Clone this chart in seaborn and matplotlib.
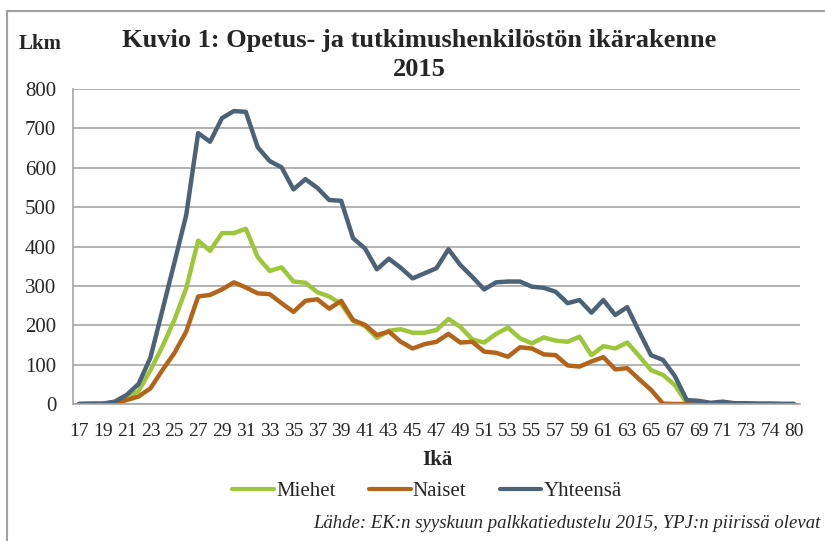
import pandas as pd
import matplotlib
matplotlib.use("Agg")
import matplotlib.pyplot as plt
from matplotlib.lines import Line2D
import seaborn as sns

# Ages on the category axis (last four as in the source chart)
ages = ["17", "18", "19", "20", "21", "22", "23", "24", "25", "26", "27", "28",
        "29", "30", "31", "32", "33", "34", "35", "36", "37", "38", "39", "40",
        "41", "42", "43", "44", "45", "46", "47", "48", "49", "50", "51", "52",
        "53", "54", "55", "56", "57", "58", "59", "60", "61", "62", "63", "64",
        "65", "66", "67", "68", "69", "70", "71", "72", "73", "75", "74", "76", "80"]

miehet = [0, 0, 0, 3, 15, 33, 86, 146, 213, 294, 415, 389, 434, 434, 445, 373,
          338, 347, 311, 308, 284, 273, 254, 211, 198, 168, 186, 190, 181, 181,
          188, 216, 196, 164, 156, 178, 194, 167, 154, 169, 161, 158, 171, 124,
          147, 141, 156, 122, 86, 74, 48, 2, 0, 0, 0, 0, 0, 0, 0, 0, 0]

naiset = [0, 0, 0, 2, 10, 19, 40, 86, 129, 184, 273, 277, 291, 309, 296, 281,
          279, 256, 234, 262, 266, 242, 262, 213, 201, 175, 184, 158, 141, 152,
          158, 178, 156, 158, 133, 130, 120, 144, 141, 126, 124, 98, 95, 108,
          119, 88, 91, 63, 36, 1, 0, 0, 0, 0, 0, 0, 0, 0, 0, 0, 0]

yhteensa = [0, 1, 1, 6, 23, 51, 118, 238, 358, 480, 688, 666, 726, 744, 742, 652,
            617, 601, 545, 571, 549, 518, 516, 421, 395, 342, 369, 346, 319, 332,
            345, 393, 353, 323, 291, 309, 311, 311, 298, 295, 285, 256, 264, 232,
            264, 226, 246, 184, 124, 112, 71, 10, 8, 3, 6, 2, 2, 1, 1, 0, 0]

series_names = ["Miehet", "Naiset", "Yhteensä"]
colors = ["#9dc63b", "#b3641a", "#4c6377"]

rows = []
for name, vals in zip(series_names, [miehet, naiset, yhteensa]):
    for i, v in enumerate(vals):
        rows.append({"pos": i, "ika": ages[i], "lkm": v, "sarja": name})
df = pd.DataFrame(rows)

sns.set_style("white")
plt.rcParams['font.family'] = ['Liberation Serif', 'DejaVu Serif']
text_col = "#262626"
grid_col = "#a6a6a6"

fig = plt.figure(figsize=(8.25, 5.41), dpi=100)
ax = fig.add_axes([73 / 825, 1 - 404 / 541, 727 / 825, 315 / 541])

sns.lineplot(data=df, x="pos", y="lkm", hue="sarja", palette=colors,
             hue_order=series_names, linewidth=3.2, sort=False, legend=False,
             ax=ax)

ax.set_xlim(-0.5, len(ages) - 0.5)
ax.set_ylim(0, 800)
ax.set_yticks(range(0, 801, 100))
ax.tick_params(axis="y", labelsize=15, colors=text_col, length=6,
               color=grid_col, width=1, pad=6)
ax.yaxis.grid(True, color=grid_col, linewidth=1.2)

# category labels on every second slot, tick marks between categories
ax.set_xticks(range(0, len(ages), 2))
ax.set_xticklabels(ages[::2])
ax.set_xticks([i - 0.5 for i in range(len(ages) + 1)], minor=True)
ax.tick_params(axis="x", which="major", length=0, labelsize=14,
               colors=text_col, pad=14)
ax.tick_params(axis="x", which="minor", length=5, color=grid_col, width=1)

for side in ["top", "right"]:
    ax.spines[side].set_visible(False)
for side in ["left", "bottom"]:
    ax.spines[side].set_color(grid_col)
    ax.spines[side].set_linewidth(1.2)
ax.set_xlabel("")
ax.set_ylabel("")

fig.text(0.508, 1 - 40 / 541, "Kuvio 1: Opetus- ja tutkimushenkilöstön ikärakenne",
         ha="center", va="center", fontsize=19, fontweight="bold", color=text_col)
fig.text(0.508, 1 - 69 / 541, "2015", ha="center", va="center", fontsize=19,
         fontweight="bold", color=text_col)
fig.text(40 / 825, 1 - 44 / 541, "Lkm", ha="center", va="center", fontsize=15,
         fontweight="bold", color=text_col)
fig.text(437 / 825, 1 - 460 / 541, "Ikä", ha="center", va="center", fontsize=15,
         fontweight="bold", color=text_col)

handles = [Line2D([], [], color=c, linewidth=3) for c in colors]
fig.legend(handles, series_names, loc="center", ncol=3,
           bbox_to_anchor=(427 / 825, 1 - 491 / 541), frameon=False,
           fontsize=15, handlelength=2.0, handletextpad=0.1,
           columnspacing=1.6, labelcolor=text_col)

fig.text(821 / 825, 1 - 523 / 541,
         "Lähde: EK:n syyskuun palkkatiedustelu 2015, YPJ:n piirissä olevat",
         ha="right", va="center", fontsize=13.5, style="italic", color=text_col)

# frame lines of the original chart area
fig.add_artist(Line2D([7 / 825, 7 / 825], [0, 1 - 11 / 541],
                      color="#a0a0a0", linewidth=1.5, transform=fig.transFigure))
fig.add_artist(Line2D([7 / 825, 1], [1 - 11 / 541, 1 - 11 / 541],
                      color="#a0a0a0", linewidth=1.5, transform=fig.transFigure))

fig.savefig("out.png", dpi=100)
